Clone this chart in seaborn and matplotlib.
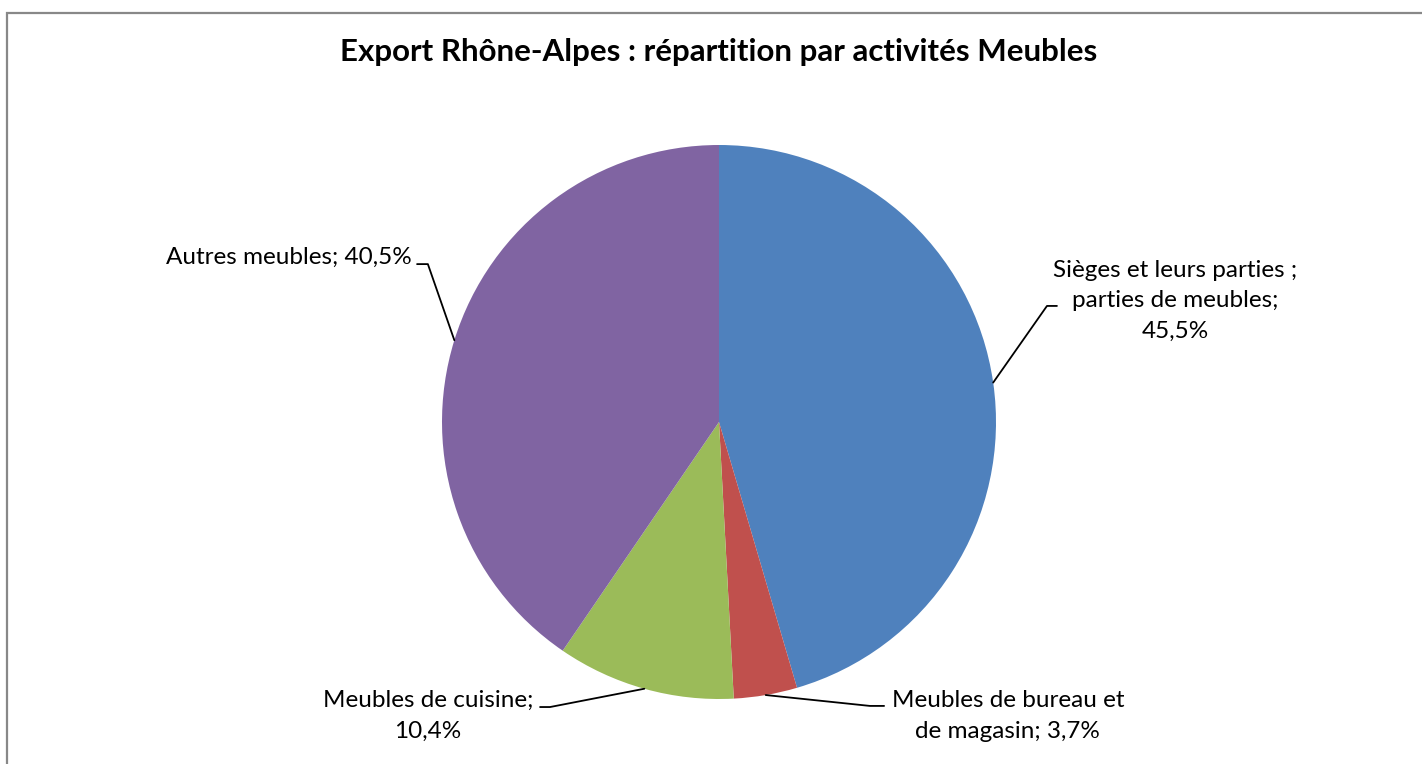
import numpy as np
import matplotlib
matplotlib.use("Agg")
import matplotlib.pyplot as plt
from matplotlib.patches import Rectangle
import seaborn as sns

# -------------------------------
# DATA
# -------------------------------

TITLE = "Export Rhône-Alpes : répartition par activités Meubles"
CATEGORIES = [
    "Sièges et leurs parties ;\nparties de meubles;",
    "Meubles de bureau et\nde magasin;",
    "Meubles de cuisine;",
    "Autres meubles;",
]
SHARES = [45.5, 3.7, 10.4, 40.5]
COLORS = ["#4F81BD", "#C0504D", "#9BBB59", "#8064A2"]
# separator between name and value: newline or space
SEPARATORS = ["\n", " ", "\n", " "]

# label layout (in pie radius units): text pos, alignment, elbow, line end
LABEL_POS = [(1.646, 0.437), (1.043, -1.061), (-1.051, -1.061), (-1.108, 0.596)]
LABEL_HA = ["center", "center", "center", "right"]
ELBOWS = [(1.184, 0.419), (0.545, -1.025), (-0.610, -1.029), (-1.051, 0.570)]
ENDS = [(1.220, 0.419), (0.596, -1.025), (-0.646, -1.029), (-1.090, 0.570)]

# -------------------------------
# PLOT
# -------------------------------

sns.set_theme(style="white")
plt.rcParams["font.family"] = ["Lato", "DejaVu Sans"]

W, H = 1422, 764
fig = plt.figure(figsize=(W / 100, H / 100), dpi=100)
fig.patch.set_facecolor("white")

# pie centre (719, 422) px, radius 277 px
R = 277
ax = fig.add_axes([(719 - R) / W, (H - 422 - R) / H, 2 * R / W, 2 * R / H])
wedges, _ = ax.pie(SHARES, colors=sns.color_palette(COLORS), startangle=90,
                   counterclock=False, radius=1,
                   wedgeprops=dict(linewidth=0))
ax.set_xlim(-1, 1)
ax.set_ylim(-1, 1)
ax.set_aspect("equal")
ax.axis("off")

for i, w in enumerate(wedges):
    # leader line starts on the rim at the wedge mid-angle
    mid = np.deg2rad((w.theta1 + w.theta2) / 2)
    xs = [np.cos(mid), ELBOWS[i][0], ENDS[i][0]]
    ys = [np.sin(mid), ELBOWS[i][1], ENDS[i][1]]
    ax.plot(xs, ys, color="black", lw=1.3, clip_on=False)
    txt = f"{CATEGORIES[i]}{SEPARATORS[i]}{SHARES[i]:.1f}%".replace(".", ",")
    ax.text(LABEL_POS[i][0], LABEL_POS[i][1], txt, ha=LABEL_HA[i], va="center",
            multialignment="center", fontsize=17.5, linespacing=1.55,
            color="black", clip_on=False)

fig.text(719 / W, 1 - 52 / H, TITLE, ha="center", va="center",
         fontsize=22.5, fontweight="bold", color="black")

# chart border (cropped on right and bottom)
fig.patches.append(Rectangle((7 / W, -0.1), 1.2, 1.1 - 13 / H,
                             transform=fig.transFigure, fill=False,
                             edgecolor="#888888", linewidth=1.6))

fig.savefig("out.png", dpi=100, facecolor="white")
